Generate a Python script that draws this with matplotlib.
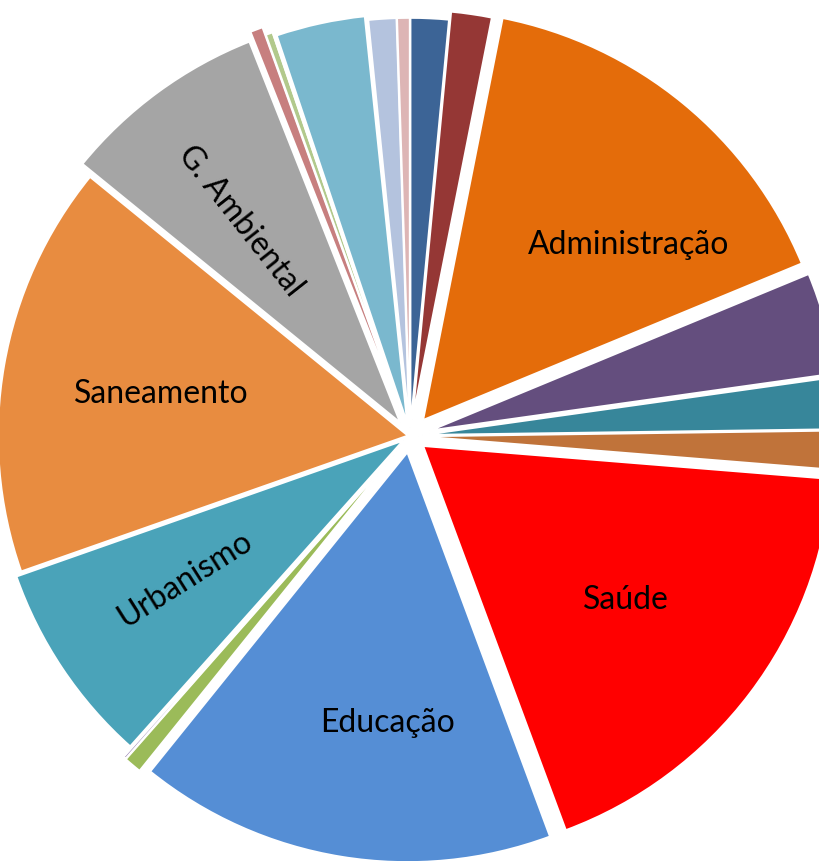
import numpy as np
import matplotlib.pyplot as plt

# slices clockwise from 12 o'clock
labels = ['', '', 'Administração', '', '', '', 'Saúde', 'Educação', '', '',
          'Urbanismo', 'Saneamento', 'G. Ambiental', '', '', '', '', '', '', '']
values = [1.5, 1.6, 15.6, 4.0, 2.0, 1.5, 18.0, 16.4, 0.7, 0.1,
          8.0, 16.2, 8.1, 0.5, 0.28, 0.05, 3.5, 0.05, 1.1, 0.5]
colors = ['#3C6496', '#953735', '#E46C0A', '#644E7E', '#37869A', '#C0733A',
          '#FF0000', '#558ED5', '#9BBB59', '#8064A2', '#4AA3B9', '#E88C40',
          '#A5A5A5', '#C77F7F', '#B2C98C', '#8E7CB0', '#7AB8CE', '#FAC090',
          '#B4C3DE', '#DDB5B5']
explode = [0.02, 0.04, 0.05, 0.05, 0.03, 0.02, 0.04, 0.04, 0.05, 0.05,
           0.02, 0.005, 0.04, 0.06, 0.04, 0.04, 0.03, 0.02, 0.02, 0.02]
rotated = ['Urbanismo', 'G. Ambiental']
# label placement tweaks (degrees off mid-angle, distance from centre)
label_shift = {'Administração': -10, 'Educação': 5, 'Urbanismo': -1.5,
               'G. Ambiental': 2}
label_dist = {'Administração': 0.66, 'Saúde': 0.62, 'Educação': 0.66,
              'Urbanismo': 0.63, 'Saneamento': 0.61, 'G. Ambiental': 0.63}

W, H = 819, 862
cx, cy, R = 410, 437, 410

fig = plt.figure(figsize=(W / 100, H / 100), dpi=100)
ax = fig.add_axes([0, 0, 1, 1])

wedges, _ = ax.pie(values, colors=colors, explode=explode,
                   startangle=90, counterclock=False,
                   wedgeprops=dict(edgecolor='white', linewidth=1.5))

for w, lab in zip(wedges, labels):
    if not lab:
        continue
    mid = (w.theta1 + w.theta2) / 2 + label_shift.get(lab, 0)
    d = label_dist[lab]
    x = w.center[0] + d * np.cos(np.radians(mid))
    y = w.center[1] + d * np.sin(np.radians(mid))
    rot = mid - 180 if lab in rotated else 0
    ax.text(x, y, lab, ha='center', va='center', rotation=rot,
            rotation_mode='anchor', fontsize=23, family='Lato', color='black')

ax.set_xlim(-cx / R, (W - cx) / R)
ax.set_ylim(-(H - cy) / R, cy / R)
ax.set_aspect('equal')
ax.axis('off')

plt.savefig('out.png', dpi=100)
